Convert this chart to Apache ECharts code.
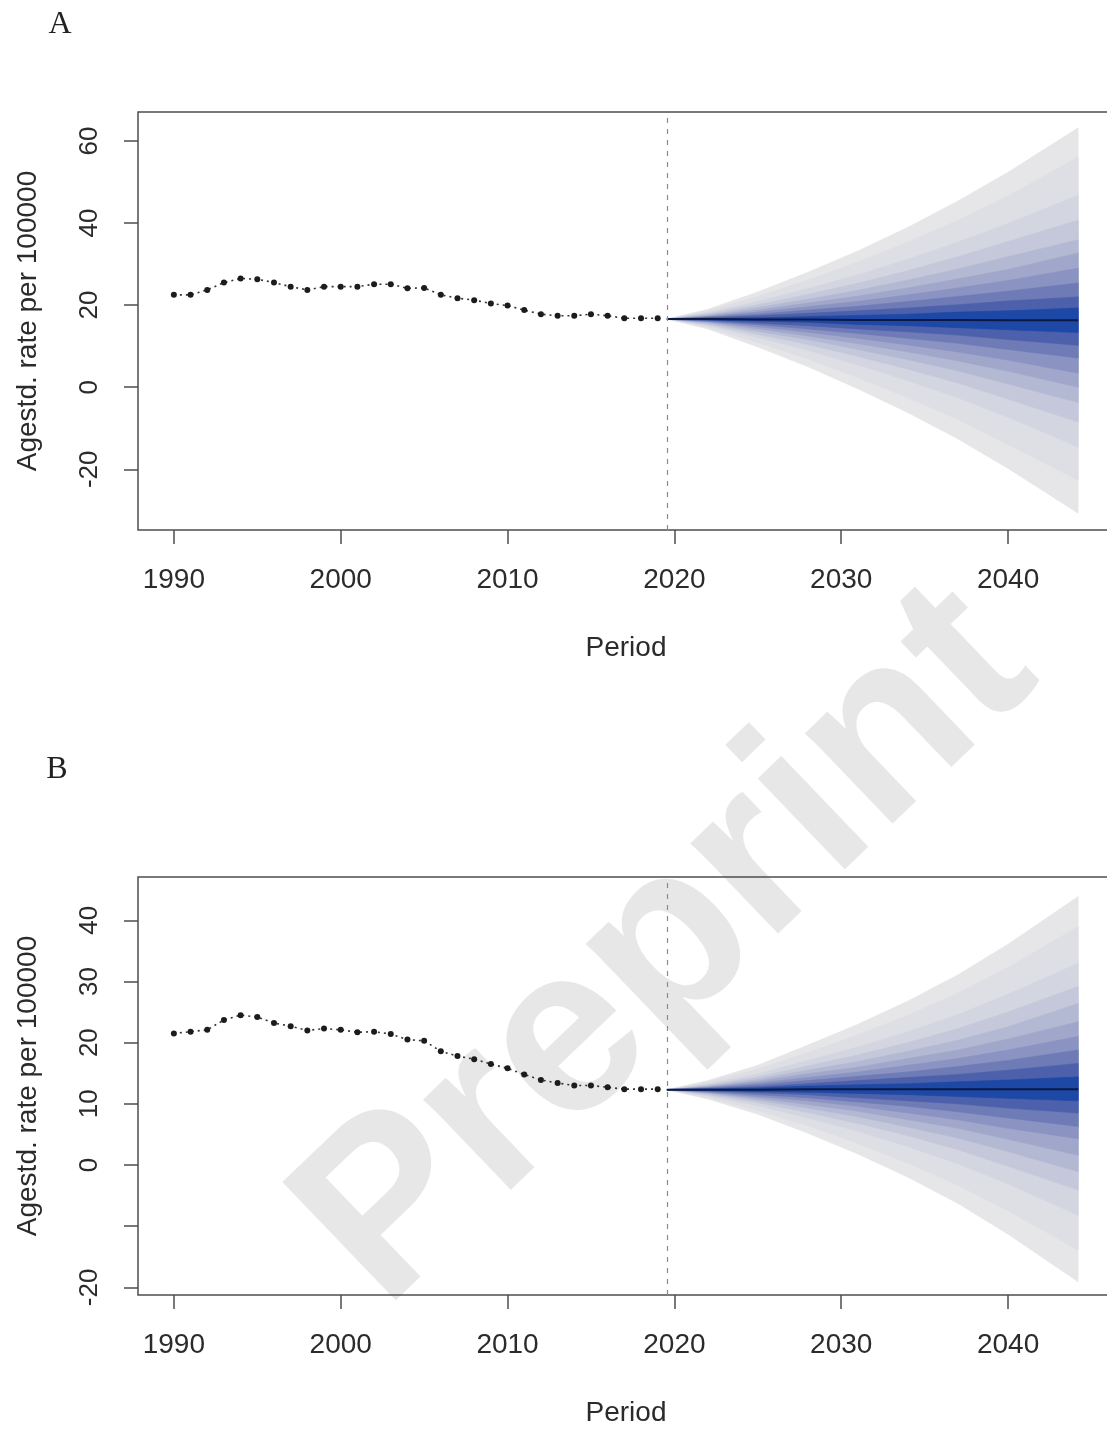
<!DOCTYPE html>
<html>
<head>
<meta charset="utf-8">
<script src="https://cdn.jsdelivr.net/npm/echarts@6/dist/echarts.min.js"></script>
<style>
  html, body { margin: 0; padding: 0; background: #ffffff; }
  #chart { width: 1107px; height: 1430px; }
</style>
</head>
<body>
<div id="chart"></div>
<script>
// Observed age-standardised rates, 1990-2019
const obsYears = [1990, 1991, 1992, 1993, 1994, 1995, 1996, 1997, 1998, 1999,
                  2000, 2001, 2002, 2003, 2004, 2005, 2006, 2007, 2008, 2009,
                  2010, 2011, 2012, 2013, 2014, 2015, 2016, 2017, 2018, 2019];
const obsA = [22.5, 22.5, 23.7, 25.5, 26.5, 26.3, 25.5, 24.5, 23.7, 24.5,
              24.5, 24.5, 25.1, 25.1, 24.1, 24.2, 22.5, 21.7, 21.2, 20.4,
              19.9, 18.8, 17.8, 17.4, 17.4, 17.8, 17.4, 16.8, 16.8, 16.8];
const obsB = [21.5, 21.8, 22.1, 23.7, 24.5, 24.2, 23.2, 22.7, 22.0, 22.3,
              22.1, 21.7, 21.8, 21.4, 20.5, 20.3, 18.6, 17.8, 17.3, 16.5,
              15.8, 14.8, 13.9, 13.4, 13.0, 13.0, 12.7, 12.4, 12.4, 12.4];

// Projection period positions on the time axis
const projStart = 2019.55;
const fanYears = [2019.55, 2022, 2025, 2028, 2031, 2034, 2037, 2040, 2044.2];

// Panel A projection: median and quantile bounds (rows: 97.5/2.5, 95/5, 90/10 ... 55/45)
const medianA = [16.6, 16.6, 16.5, 16.5, 16.4, 16.4, 16.4, 16.3, 16.3];
const upperA = [
  [16.6, 19.0, 23.2, 28.0, 33.2, 39.0, 45.4, 52.4, 63.2],
  [16.6, 18.6, 22.1, 26.1, 30.5, 35.4, 40.7, 46.6, 56.1],
  [16.6, 18.2, 20.9, 24.0, 27.4, 31.2, 35.4, 39.9, 46.8],
  [16.6, 17.9, 20.1, 22.6, 25.3, 28.4, 31.8, 35.5, 40.7],
  [16.6, 17.6, 19.4, 21.4, 23.6, 26.1, 28.8, 31.8, 35.9],
  [16.6, 17.4, 18.8, 20.5, 22.2, 24.2, 26.4, 28.7, 32.7],
  [16.6, 17.2, 18.3, 19.6, 20.9, 22.5, 24.2, 26.0, 29.0],
  [16.6, 17.1, 17.8, 18.8, 19.7, 20.9, 22.1, 23.4, 25.4],
  [16.6, 16.9, 17.4, 18.0, 18.6, 19.3, 20.1, 21.0, 22.0],
  [16.6, 16.8, 16.9, 17.2, 17.5, 17.8, 18.3, 18.6, 19.3]
];
const lowerA = [
  [16.6, 14.2, 9.8, 5.0, -0.4, -6.2, -12.6, -19.8, -30.7],
  [16.6, 14.6, 10.9, 6.9, 2.3, -2.6, -7.9, -14.0, -22.7],
  [16.6, 15.0, 12.1, 9.0, 5.4, 1.6, -2.6, -7.3, -14.6],
  [16.6, 15.3, 12.9, 10.4, 7.5, 4.4, 1.0, -2.9, -8.5],
  [16.6, 15.6, 13.6, 11.6, 9.2, 6.7, 4.0, 0.8, -3.7],
  [16.6, 15.8, 14.2, 12.5, 10.6, 8.6, 6.4, 3.9, 0.0],
  [16.6, 16.0, 14.7, 13.4, 11.9, 10.3, 8.6, 6.6, 3.4],
  [16.6, 16.1, 15.2, 14.2, 13.1, 11.9, 10.7, 9.2, 7.1],
  [16.6, 16.3, 15.6, 15.0, 14.2, 13.5, 12.7, 11.6, 10.2],
  [16.6, 16.4, 16.1, 15.8, 15.3, 15.0, 14.5, 14.0, 13.3]
];

// Panel B projection
const medianB = [12.3, 12.3, 12.3, 12.4, 12.4, 12.4, 12.4, 12.4, 12.4];
const upperB = [
  [12.3, 13.8, 16.3, 19.6, 23.0, 26.8, 31.1, 36.1, 43.9],
  [12.3, 13.6, 15.7, 18.4, 21.3, 24.5, 28.1, 32.3, 39.0],
  [12.3, 13.3, 14.9, 17.1, 19.3, 21.8, 24.6, 27.9, 33.0],
  [12.3, 13.1, 14.4, 16.2, 18.0, 20.0, 22.3, 25.0, 29.2],
  [12.3, 12.9, 14.0, 15.5, 16.9, 18.6, 20.4, 22.6, 26.4],
  [12.3, 12.8, 13.7, 14.9, 16.0, 17.4, 18.8, 20.6, 23.4],
  [12.3, 12.7, 13.4, 14.3, 15.2, 16.3, 17.4, 18.8, 21.0],
  [12.3, 12.6, 13.1, 13.8, 14.5, 15.2, 16.1, 17.1, 18.8],
  [12.3, 12.5, 12.8, 13.3, 13.8, 14.3, 14.8, 15.5, 16.6],
  [12.3, 12.4, 12.6, 12.9, 13.1, 13.3, 13.6, 13.9, 14.4]
];
const lowerB = [
  [12.3, 10.8, 8.3, 5.2, 1.8, -2.0, -6.3, -11.3, -19.1],
  [12.3, 11.0, 8.9, 6.4, 3.5, 0.3, -3.3, -7.5, -13.9],
  [12.3, 11.3, 9.7, 7.7, 5.5, 3.0, 0.2, -3.1, -8.2],
  [12.3, 11.5, 10.2, 8.6, 6.8, 4.8, 2.5, -0.2, -4.1],
  [12.3, 11.7, 10.6, 9.3, 7.9, 6.2, 4.4, 2.2, -1.1],
  [12.3, 11.8, 10.9, 9.9, 8.8, 7.4, 6.0, 4.2, 1.6],
  [12.3, 11.9, 11.2, 10.5, 9.6, 8.5, 7.4, 6.0, 4.3],
  [12.3, 12.0, 11.5, 11.0, 10.3, 9.6, 8.7, 7.7, 6.3],
  [12.3, 12.1, 11.8, 11.5, 11.0, 10.5, 10.0, 9.3, 8.5],
  [12.3, 12.2, 12.0, 11.9, 11.7, 11.5, 11.2, 10.9, 10.5]
];

// Axis ticks and labels
const xTicks = [1990, 2000, 2010, 2020, 2030, 2040];
const yTicksA = [-20, 0, 20, 40, 60];
const yLabelsA = [-20, 0, 20, 40, 60];
const yTicksB = [-20, -10, 0, 10, 20, 30, 40];
const yLabelsB = [-20, 0, 10, 20, 30, 40];

// Fan colours, outermost band first
const bandColors = ['#e6e6e8', '#dedfe5', '#d3d5e0', '#c5c8da', '#b4b9d3',
                    '#a0a7cb', '#8a93c1', '#6e7bb6', '#4c60ab', '#1d48a6'];

const sans = '"Liberation Sans", Arial, Helvetica, sans-serif';
const frame = '#4d4d4d';
const textCol = '#2b2b2b';

function xAxisFor(idx) {
  return {
    type: 'value', gridIndex: idx, min: 1987.85, max: 2046.35,
    splitLine: { show: false },
    axisLine: { show: false, onZero: false },
    axisTick: { show: true, length: 14, customValues: xTicks, lineStyle: { color: frame, width: 1.5 } },
    axisLabel: { customValues: xTicks, margin: 36, fontSize: 28, fontFamily: sans, color: textCol,
                 formatter: function (v) { return String(v); } },
    name: 'Period', nameLocation: 'middle', nameGap: 104,
    nameTextStyle: { fontSize: 28, fontFamily: sans, color: textCol }
  };
}
function yAxisFor(idx, min, max, ticks, labels) {
  return {
    type: 'value', gridIndex: idx, min: min, max: max,
    splitLine: { show: false },
    axisLine: { show: false, onZero: false },
    axisTick: { show: true, length: 14, customValues: ticks, lineStyle: { color: frame, width: 1.5 } },
    axisLabel: { customValues: labels, rotate: 90, margin: 35, fontSize: 26, fontFamily: sans, color: textCol,
                 formatter: function (v) { return String(v); } },
    name: 'Agestd. rate per 100000', nameLocation: 'middle', nameGap: 96, nameRotate: 90,
    nameTextStyle: { fontSize: 28, fontFamily: sans, color: textCol }
  };
}

function fanSeries(idx, upper, lower) {
  return {
    type: 'custom', xAxisIndex: idx, yAxisIndex: idx, z: 2, silent: true,
    data: bandColors.map(function (c, k) { return [k]; }),
    renderItem: function (params, api) {
      const k = params.dataIndex;
      const pts = [];
      for (let i = 0; i < fanYears.length; i++) pts.push(api.coord([fanYears[i], upper[k][i]]));
      for (let i = fanYears.length - 1; i >= 0; i--) pts.push(api.coord([fanYears[i], lower[k][i]]));
      return { type: 'polygon', shape: { points: pts }, style: { fill: bandColors[k], stroke: bandColors[k], lineWidth: 0.6 } };
    }
  };
}
function medianSeries(idx, med) {
  return {
    type: 'line', xAxisIndex: idx, yAxisIndex: idx, z: 3, silent: true,
    data: fanYears.map(function (y, i) { return [y, med[i]]; }),
    symbol: 'none', lineStyle: { color: '#0b1845', width: 2 }
  };
}
function observedSeries(idx, vals) {
  return {
    type: 'line', xAxisIndex: idx, yAxisIndex: idx, z: 4, silent: true,
    data: obsYears.map(function (y, i) { return [y, vals[i]]; }),
    symbol: 'circle', symbolSize: 6,
    itemStyle: { color: '#1c1c1c' },
    lineStyle: { color: '#333333', width: 1.6, type: [2, 4] },
    markLine: {
      silent: true, symbol: ['none', 'none'], label: { show: false },
      lineStyle: { color: '#8a8a8a', width: 1.2, type: [5, 6] },
      data: [{ xAxis: projStart }]
    }
  };
}

const chart = echarts.init(document.getElementById('chart'), null, { renderer: 'canvas' });
chart.setOption({
  backgroundColor: '#ffffff',
  animation: false,
  grid: [
    { left: 138, right: -7, top: 112, height: 418, show: true, borderColor: frame, borderWidth: 1.5, backgroundColor: 'transparent', outerBoundsMode: 'none' },
    { left: 138, right: -7, top: 877, height: 418, show: true, borderColor: frame, borderWidth: 1.5, backgroundColor: 'transparent', outerBoundsMode: 'none' }
  ],
  xAxis: [xAxisFor(0), xAxisFor(1)],
  yAxis: [
    yAxisFor(0, -34.8, 67.06, yTicksA, yLabelsA),
    yAxisFor(1, -21.25, 47.08, yTicksB, yLabelsB)
  ],
  graphic: [
    { type: 'text', x: 668, y: 948, rotation: 0.765, z: -10, silent: true,
      style: { text: 'Preprint', fontSize: 238, fontWeight: 'bold', fontFamily: sans,
               fill: '#e7e7e7', align: 'center', verticalAlign: 'middle' } },
    { type: 'text', x: 60, y: 25, silent: true,
      style: { text: 'A', fontSize: 32, fontFamily: '"Liberation Serif", "Times New Roman", serif', fill: '#222',
               align: 'center', verticalAlign: 'middle' } },
    { type: 'text', x: 57, y: 770, silent: true,
      style: { text: 'B', fontSize: 32, fontFamily: '"Liberation Serif", "Times New Roman", serif', fill: '#222',
               align: 'center', verticalAlign: 'middle' } }
  ],
  series: [
    fanSeries(0, upperA, lowerA), medianSeries(0, medianA), observedSeries(0, obsA),
    fanSeries(1, upperB, lowerB), medianSeries(1, medianB), observedSeries(1, obsB)
  ]
});
</script>
</body>
</html>
